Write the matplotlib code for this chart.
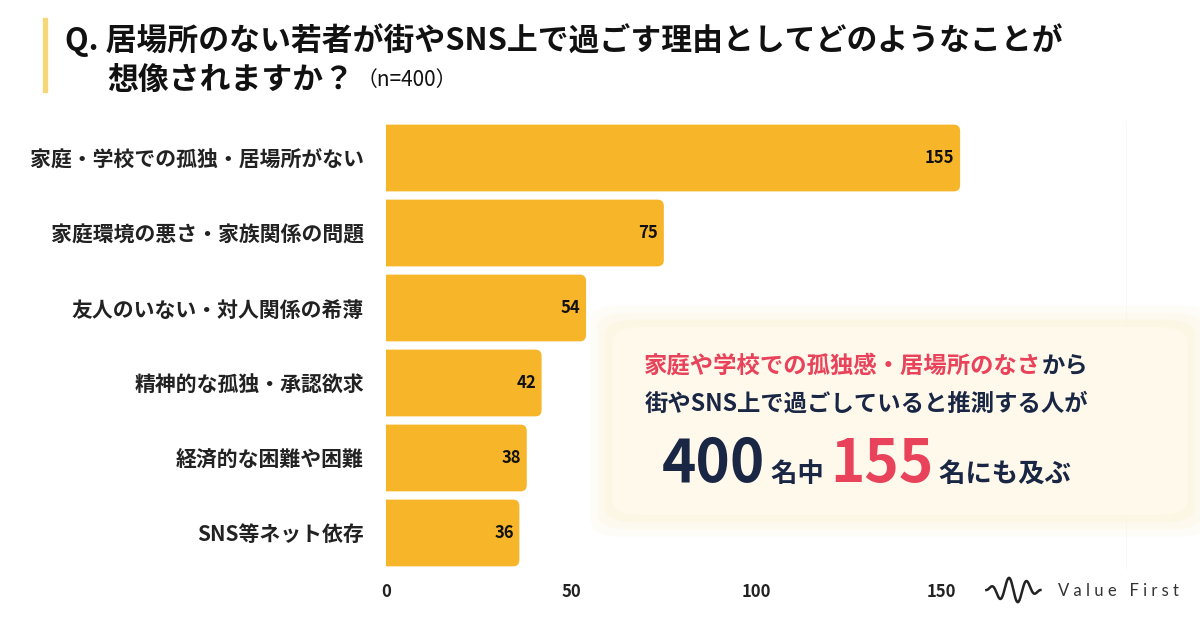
import matplotlib
matplotlib.use("Agg")
import matplotlib.pyplot as plt
from matplotlib.patches import FancyBboxPatch, Rectangle
import numpy as np

plt.rcParams['font.family'] = ['Noto Sans CJK JP', 'DejaVu Sans']

categories = ["家庭・学校での孤独・居場所がない", "家庭環境の悪さ・家族関係の問題",
              "友人のいない・対人関係の希薄", "精神的な孤独・承認欲求",
              "経済的な困難や困難", "SNS等ネット依存"]
values = [155, 75, 54, 42, 38, 36]
xticks = [0, 50, 100, 150]
title_line1 = "Q. 居場所のない若者が街やSNS上で過ごす理由としてどのようなことが"
title_line2 = "想像されますか？"
title_n = "（n=400）"

BAR = "#F7B52A"
RED = "#E8435A"
NAVY = "#1A2744"

fig = plt.figure(figsize=(12, 6.28), dpi=100)
ax = fig.add_axes([0.3217, 0.0916, 0.939 - 0.3217, 0.8081 - 0.0916])

y = np.arange(len(categories))
bars = ax.barh(y, values, height=0.89, color=BAR, zorder=3)
ax.set_ylim(len(categories) - 0.5, -0.5)
ax.set_xlim(0, 200)

# replace bars with right-rounded boxes (left end clipped at axis)
for b in bars:
    x0, y0, w, h = b.get_x(), b.get_y(), b.get_width(), b.get_height()
    b.set_visible(False)
    p = FancyBboxPatch((x0 - 4, y0), w + 4, h,
                       boxstyle="round,pad=0,rounding_size=1.7",
                       mutation_aspect=0.05, facecolor=BAR, edgecolor='none',
                       zorder=3, clip_on=True)
    ax.add_patch(p)

ax.set_yticks(y)
ax.set_yticklabels(categories, fontsize=15, fontweight='bold', color='#222222')
ax.set_xticks(xticks)
ax.set_xticklabels([str(t) for t in xticks], fontsize=12, fontweight='bold', color='#222222')
ax.set_xticks([50, 100, 150, 200], minor=True)
ax.grid(axis='x', which='minor', color='#e2e2e2', linewidth=1, zorder=0)
ax.tick_params(axis='both', which='both', length=0)
ax.tick_params(axis='y', pad=16)
ax.tick_params(axis='x', pad=9)
for s in ax.spines.values():
    s.set_visible(False)

for yi, v in zip(y, values):
    ax.text(v - 1.5, yi, str(v), ha='right', va='center', fontsize=12,
            fontweight='bold', color='#111111', zorder=4)

# Title
fig.patches.append(Rectangle((0.036, 1 - 92 / 628), 0.003, 74 / 628,
                             transform=fig.transFigure, color='#F5D77A', zorder=1))
fig.text(0.054, 1 - 40 / 628, title_line1, fontsize=22.2, fontweight='bold',
         va='center', ha='left', color='#111111')
t2 = fig.text(0.089, 1 - 80 / 628, title_line2, fontsize=22.2, fontweight='bold',
              va='center', ha='left', color='#111111')
fig.canvas.draw()
bb = t2.get_window_extent()
fig.text(bb.x1 / 1200 + 0.002, 1 - 80 / 628, title_n, fontsize=15,
         va='center', ha='left', color='#111111')

# Callout box (soft glow)
for i, a in enumerate([0.2, 0.3, 0.45, 1.0]):
    pad = (3 - i) * 0.006
    fig.patches.append(FancyBboxPatch((0.51 - pad, 1 - 515 / 628 - pad * 1.9),
                                      0.48 + 2 * pad, 188 / 628 + 2 * pad * 1.9,
                                      boxstyle="round,pad=0,rounding_size=0.025",
                                      transform=fig.transFigure,
                                      facecolor='#FCF3DA' if i < 3 else '#FFF9EC',
                                      edgecolor='none', alpha=a, zorder=5))

def rich_line(parts, xc, yc):
    texts = []
    for (s, c, fs) in parts:
        t = fig.text(0, yc, s, fontsize=fs, fontweight='bold', color=c,
                     va='baseline', ha='left', zorder=6)
        texts.append(t)
    fig.canvas.draw()
    r = fig.canvas.get_renderer()
    widths = [t.get_window_extent(r).width / 1200 for t in texts]
    total = sum(widths)
    x = xc - total / 2
    for t, w in zip(texts, widths):
        t.set_x(x)
        x += w

xc = 0.722
rich_line([("家庭や学校での孤独感・居場所のなさ", RED, 16.8), ("から", NAVY, 16.8)], xc, 1 - 373 / 628)
rich_line([("街やSNS上で過ごしていると推測する人が", NAVY, 16.8)], xc, 1 - 411 / 628)
rich_line([("400", NAVY, 42), (" 名中 ", NAVY, 19), ("155", RED, 42), (" 名にも及ぶ", NAVY, 19)],
          xc, 1 - 482 / 628)

# Logo
tt = np.linspace(0, 1, 200)
lx = 0.822 + 0.045 * tt
ly = 1 - 590 / 628 + 0.02 * np.sin(tt * 6 * np.pi) * np.sin(tt * np.pi)
fig.add_artist(plt.Line2D(lx, ly, transform=fig.transFigure, color='#222222', lw=1.8))
fig.text(0.882, 1 - 591 / 628, "V a l u e   F i r s t", fontsize=12,
         color='#333333', va='center', ha='left', family=['Lato', 'DejaVu Sans'])

fig.savefig("out.png", dpi=100, facecolor='white')
